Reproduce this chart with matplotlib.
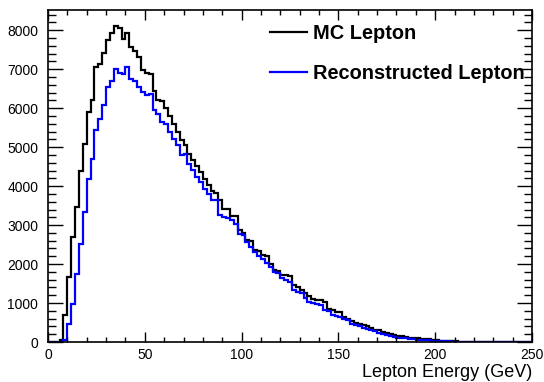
import numpy as np
import matplotlib
matplotlib.use("Agg")
import matplotlib.pyplot as plt
from matplotlib.ticker import MultipleLocator

plt.rcParams['font.family'] = ['Liberation Sans', 'DejaVu Sans']

# 2 GeV bins, 0-250 GeV
edges = np.linspace(0, 250, 126)

mc_lepton = [
    0, 0, 0, 60, 685, 1667, 2692, 3462, 4377, 5087,
    5897, 6223, 7051, 7137, 7420, 7754, 7923, 8121, 8061, 7779,
    7923, 7564, 7462, 7308, 6985, 6915, 6882, 6454, 6215, 6180,
    6000, 5790, 5600, 5385, 5190, 5044, 4831, 4659, 4505, 4359,
    4190, 4018, 3872, 3821, 3633, 3420, 3420, 3240, 3223, 2864,
    2795, 2626, 2590, 2369, 2326, 2223, 2197, 2010, 1856, 1821,
    1710, 1710, 1685, 1454, 1410, 1326, 1260, 1180, 1112, 1069,
    1069, 1026, 855, 829, 769, 769, 641, 582, 538, 487,
    453, 428, 402, 368, 318, 300, 256, 231, 215, 190,
    160, 150, 130, 115, 105, 95, 85, 75, 65, 55,
    45, 36, 28, 22, 17, 13, 10, 8, 6, 5,
    4, 3, 3, 2, 2, 1, 1, 1, 0, 0,
    0, 0, 0, 0, 0,
]

reco_lepton = [
    0, 0, 0, 0, 50, 470, 985, 1754, 2523, 3333,
    4188, 4701, 5428, 5728, 6087, 6538, 6710, 7010, 6915, 6882,
    7051, 6754, 6700, 6556, 6410, 6326, 6369, 5941, 5856, 5641,
    5600, 5400, 5215, 5044, 4787, 4813, 4574, 4403, 4231, 4103,
    3933, 3805, 3651, 3633, 3267, 3205, 3180, 3121, 3036, 2762,
    2736, 2564, 2436, 2308, 2197, 2138, 2026, 1923, 1795, 1769,
    1641, 1600, 1538, 1326, 1282, 1256, 1140, 1026, 1000, 985,
    950, 829, 795, 685, 660, 641, 600, 556, 470, 428,
    402, 368, 341, 300, 272, 240, 215, 190, 162, 137,
    111, 100, 90, 80, 72, 64, 56, 48, 41, 35,
    29, 24, 19, 15, 12, 9, 7, 5, 4, 3,
    2, 2, 1, 1, 0, 0, 0, 0, 0, 0,
    0, 0, 0, 0, 0,
]

fig = plt.figure(figsize=(5.44, 3.82), dpi=100)
ax = fig.add_axes([48/544, 1 - 342/382, 484/544, 332/382])

ax.stairs(mc_lepton, edges, color='black', lw=1.6, label='MC Lepton')
ax.stairs(reco_lepton, edges, color='#0000ff', lw=1.6, label='Reconstructed Lepton')

ax.set_xlim(0, 250)
ax.set_ylim(0, 8520)

ax.xaxis.set_major_locator(MultipleLocator(50))
ax.xaxis.set_minor_locator(MultipleLocator(10))
ax.yaxis.set_major_locator(MultipleLocator(1000))
ax.yaxis.set_minor_locator(MultipleLocator(200))

ax.tick_params(axis='both', which='both', direction='in', top=True, right=True,
               labelsize=10, width=1)
ax.tick_params(axis='x', which='major', length=7.2, pad=4)
ax.tick_params(axis='x', which='minor', length=3.6)
ax.tick_params(axis='y', which='major', length=10.8, pad=7)
ax.tick_params(axis='y', which='minor', length=5.8)

for s in ax.spines.values():
    s.set_linewidth(1.2)

ax.set_xlabel('Lepton Energy (GeV)', loc='right', fontsize=13, labelpad=2)

leg = ax.legend(loc='upper left', bbox_to_anchor=(0.421, 1.012), frameon=False,
                prop={'weight': 'bold', 'size': 14.4}, handlelength=1.85,
                handletextpad=0.33, labelspacing=1.05)
for h in leg.legend_handles:
    h.set_linewidth(1.6)

fig.savefig('out.png', dpi=100)
